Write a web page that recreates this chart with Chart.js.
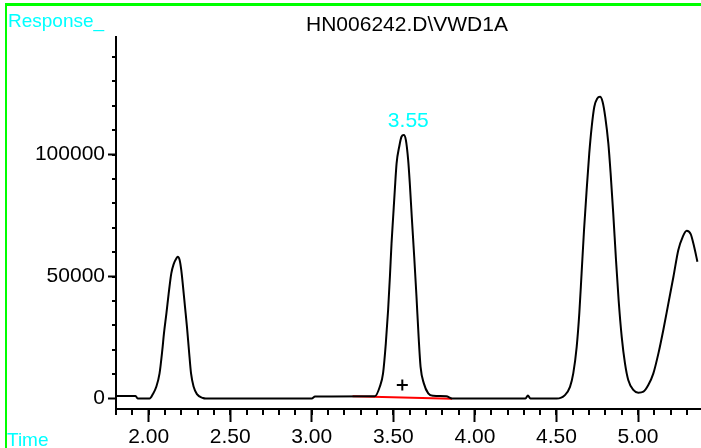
<!DOCTYPE html>
<html>
<head>
<meta charset="utf-8">
<script src="https://cdn.jsdelivr.net/npm/chart.js@4"></script>
<style>
  html, body { margin: 0; padding: 0; background: #fff; }
  #wrap { width: 701px; height: 448px; }
</style>
</head>
<body>
<div id="wrap"><canvas id="graph" width="701" height="448"></canvas></div>
<script>
const signalName = 'HN006242.D\\VWD1A';
const yAxisTitle = 'Response_';
const xAxisTitle = 'Time';

// trace (minutes / response)
const times = [
  1.800, 1.920, 1.933, 2.006, 2.026, 2.047, 2.067, 2.084, 2.094, 2.109,
  2.123, 2.139, 2.153, 2.170, 2.178, 2.190, 2.200, 2.211, 2.223, 2.235,
  2.247, 2.260, 2.276, 2.296, 2.333, 2.350, 3.000, 3.020, 3.387, 3.417,
  3.437, 3.454, 3.468, 3.479, 3.489, 3.499, 3.509, 3.520, 3.536, 3.550,
  3.564, 3.577, 3.591, 3.601, 3.613, 3.628, 3.642, 3.655, 3.667, 3.687,
  3.714, 3.745, 3.825, 3.860, 4.310, 4.325, 4.340, 4.501, 4.552, 4.583,
  4.603, 4.624, 4.640, 4.654, 4.669, 4.685, 4.701, 4.716, 4.732, 4.750,
  4.767, 4.783, 4.799, 4.818, 4.832, 4.848, 4.865, 4.881, 4.900, 4.920,
  4.940, 4.971, 5.002, 5.033, 5.063, 5.094, 5.125, 5.155, 5.186, 5.217,
  5.247, 5.274, 5.298, 5.323, 5.344, 5.364
];
const responses = [
  1000, 1000, 0, 0, 1800, 4800, 10300, 19900, 26700, 34900,
  43100, 51300, 55000, 57400, 58100, 56800, 52700, 45800, 37600, 29400,
  19900, 10300, 4800, 1800, 200, 0, 0, 800, 900, 4800,
  10300, 22600, 36300, 49900, 63600, 74500, 85400, 96400, 103200, 107300,
  108000, 105900, 97700, 88200, 74500, 58100, 41700, 25300, 13000, 6200,
  2100, 1100, 900, 0, 0, 1200, 0, 0, 1400, 4800,
  10300, 21200, 34900, 51300, 69100, 85400, 100500, 111400, 119600, 123000,
  123700, 121600, 115500, 104600, 92300, 75900, 56800, 40400, 25300, 14400,
  7600, 3500, 2400, 2800, 5500, 10300, 18500, 28100, 39000, 49900,
  60900, 66300, 68800, 67400, 62200, 56100
];

// integration baseline of the labelled peak
const baseTimes = [3.25, 3.86];
const baseValues = [900, -100];

// peak marker and label
const markTimes = [3.555];
const markValues = [5500];
const peakTimes = [3.555];
const peakValues = [108000];
const peakLabels = ['3.55'];

const xTicks = [2.0, 2.5, 3.0, 3.5, 4.0, 4.5, 5.0];
const xTickLabels = ['2.00', '2.50', '3.00', '3.50', '4.00', '4.50', '5.00'];
const yTicks = [0, 50000, 100000];
const yTickLabels = ['0', '50000', '100000'];

const FONT = 'Liberation Sans, Arial, sans-serif';
Chart.defaults.font.family = FONT;
Chart.defaults.color = '#000';

function toPoints(xs, ys) {
  return xs.map((x, i) => ({ x: x, y: ys[i] }));
}

const decorations = {
  id: 'decorations',
  afterDraw(chart) {
    const ctx = chart.ctx;
    const xs = chart.scales.x;
    const ys = chart.scales.y;
    const area = chart.chartArea;
    ctx.save();

    // minor ticks
    ctx.strokeStyle = '#000';
    ctx.lineWidth = 2;
    ctx.beginPath();
    for (let i = 18; i <= 53; i++) {
      const px = Math.round(xs.getPixelForValue(i / 10));
      ctx.moveTo(px, area.bottom);
      ctx.lineTo(px, area.bottom + 6);
    }
    for (let v = 10000; v <= 140000; v += 10000) {
      const py = Math.round(ys.getPixelForValue(v));
      ctx.moveTo(area.left, py);
      ctx.lineTo(area.left - 4, py);
    }
    ctx.stroke();

    // frame
    ctx.fillStyle = '#00ff00';
    ctx.fillRect(5, 3, 696, 3);
    ctx.fillRect(5, 3, 2, 445);

    // texts
    ctx.textBaseline = 'alphabetic';
    ctx.fillStyle = '#00ffff';
    ctx.font = '19px ' + FONT;
    ctx.textAlign = 'left';
    ctx.fillText(yAxisTitle, 8, 27);
    ctx.fillText(xAxisTitle, 7, 446);

    ctx.font = '21px ' + FONT;
    ctx.fillStyle = '#000';
    ctx.textAlign = 'center';
    ctx.fillText(signalName, 407, 31);

    ctx.fillStyle = '#00ffff';
    peakTimes.forEach((t, i) => {
      const px = xs.getPixelForValue(t);
      const py = ys.getPixelForValue(peakValues[i]);
      ctx.fillText(peakLabels[i], px + 6, py - 8);
    });
    ctx.restore();
  }
};

new Chart(document.getElementById('graph'), {
  type: 'line',
  data: {
    datasets: [
      {
        data: toPoints(times, responses),
        borderColor: '#000',
        borderWidth: 2,
        pointRadius: 0,
        cubicInterpolationMode: 'monotone',
      },
      {
        data: toPoints(baseTimes, baseValues),
        borderColor: '#ff0000',
        borderWidth: 2,
        pointRadius: 0,
      },
      {
        data: toPoints(markTimes, markValues),
        showLine: false,
        pointStyle: 'cross',
        pointRadius: 5.5,
        borderColor: '#000',
        borderWidth: 2,
      },
    ],
  },
  options: {
    responsive: false,
    animation: false,
    devicePixelRatio: 1,
    layout: {
      autoPadding: false,
      padding: { top: 37, right: 0, left: 0, bottom: 0 },
    },
    plugins: {
      legend: { display: false },
      title: { display: false },
      tooltip: { enabled: false },
    },
    scales: {
      x: {
        type: 'linear',
        position: 'bottom',
        min: 1.8,
        max: 5.386,
        afterBuildTicks: (scale) => {
          scale.ticks = xTicks.map((v) => ({ value: v }));
        },
        afterFit: (scale) => {
          scale.height = 39;
          scale.paddingLeft = 0;
          scale.paddingRight = 0;
        },
        border: { display: true, color: '#000', width: 2 },
        grid: {
          drawOnChartArea: false,
          drawTicks: true,
          tickLength: 13,
          tickWidth: 2,
          tickColor: '#000',
        },
        ticks: {
          autoSkip: false,
          maxRotation: 0,
          padding: 3,
          color: '#000',
          font: { size: 21 },
          callback: (v) => xTickLabels[xTicks.indexOf(v)],
        },
      },
      y: {
        type: 'linear',
        min: -4300,
        max: 148200,
        afterBuildTicks: (scale) => {
          scale.ticks = yTicks.map((v) => ({ value: v }));
        },
        afterFit: (scale) => {
          scale.width = 116;
          scale.paddingTop = 0;
          scale.paddingBottom = 0;
        },
        border: { display: true, color: '#000', width: 2 },
        grid: {
          drawOnChartArea: false,
          drawTicks: true,
          tickLength: 8,
          tickWidth: 2,
          tickColor: '#000',
        },
        ticks: {
          padding: 3,
          color: '#000',
          font: { size: 21 },
          callback: (v) => yTickLabels[yTicks.indexOf(v)],
        },
      },
    },
  },
  plugins: [decorations],
});
</script>
</body>
</html>
